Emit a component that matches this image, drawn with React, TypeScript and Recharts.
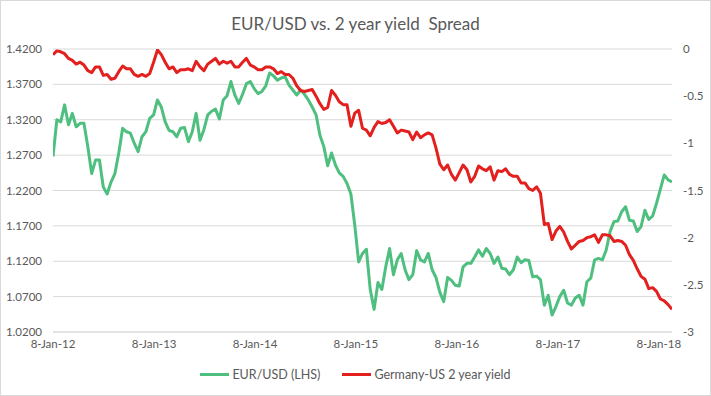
import React from "react";
import { LineChart, Line, XAxis, YAxis, CartesianGrid, Legend } from "recharts";

// Fortnightly observations starting 8-Jan-2012
const startDate = Date.UTC(2012, 0, 8);
const stepDays = 14;
const DAY_MS = 86400000;

const eurUsd = [
  1.268, 1.320, 1.317, 1.341, 1.313, 1.329, 1.310, 1.315, 1.315, 1.282,
  1.244, 1.263, 1.263, 1.225, 1.215, 1.232, 1.244, 1.273, 1.308, 1.303,
  1.301, 1.287, 1.275, 1.296, 1.303, 1.322, 1.327, 1.348, 1.338, 1.317,
  1.305, 1.303, 1.296, 1.308, 1.309, 1.289, 1.303, 1.329, 1.291, 1.306,
  1.327, 1.332, 1.335, 1.321, 1.348, 1.354, 1.374, 1.355, 1.343, 1.356,
  1.371, 1.374, 1.364, 1.357, 1.360, 1.368, 1.386, 1.382, 1.376, 1.379,
  1.381, 1.369, 1.362, 1.355, 1.362, 1.356, 1.348, 1.338, 1.327, 1.298,
  1.282, 1.255, 1.273, 1.256, 1.245, 1.240, 1.230, 1.215, 1.171, 1.119,
  1.131, 1.137, 1.080, 1.052, 1.090, 1.080, 1.112, 1.138, 1.101, 1.122,
  1.131, 1.108, 1.094, 1.101, 1.135, 1.122, 1.119, 1.131, 1.108, 1.097,
  1.076, 1.063, 1.097, 1.093, 1.086, 1.085, 1.112, 1.117, 1.117, 1.126,
  1.136, 1.127, 1.138, 1.131, 1.117, 1.126, 1.110, 1.109, 1.101, 1.108,
  1.126, 1.118, 1.122, 1.121, 1.098, 1.099, 1.094, 1.058, 1.072, 1.044,
  1.056, 1.070, 1.079, 1.061, 1.058, 1.068, 1.072, 1.058, 1.091, 1.096,
  1.122, 1.124, 1.122, 1.136, 1.162, 1.176, 1.177, 1.190, 1.197, 1.178,
  1.177, 1.162, 1.169, 1.192, 1.179, 1.184, 1.202, 1.222, 1.242, 1.235,
  1.232,
];

const spread = [
  -0.06, -0.02, -0.03, -0.05, -0.10, -0.12, -0.16, -0.14, -0.17, -0.23,
  -0.25, -0.19, -0.19, -0.28, -0.27, -0.32, -0.31, -0.24, -0.18, -0.21,
  -0.21, -0.27, -0.29, -0.27, -0.29, -0.26, -0.14, -0.01, -0.06, -0.14,
  -0.21, -0.19, -0.25, -0.22, -0.22, -0.21, -0.23, -0.13, -0.19, -0.23,
  -0.16, -0.13, -0.10, -0.16, -0.13, -0.15, -0.13, -0.19, -0.19, -0.14,
  -0.10, -0.17, -0.19, -0.22, -0.22, -0.19, -0.19, -0.21, -0.26, -0.24,
  -0.27, -0.27, -0.31, -0.39, -0.44, -0.45, -0.44, -0.43, -0.50, -0.58,
  -0.64, -0.62, -0.44, -0.49, -0.56, -0.59, -0.59, -0.82, -0.68, -0.65,
  -0.84, -0.86, -0.92, -0.83, -0.77, -0.79, -0.78, -0.75, -0.82, -0.89,
  -0.86, -0.87, -0.88, -0.96, -0.88, -0.94, -0.91, -0.89, -0.91, -1.05,
  -1.22, -1.28, -1.23, -1.33, -1.39, -1.31, -1.23, -1.28, -1.41, -1.35,
  -1.24, -1.27, -1.29, -1.25, -1.39, -1.29, -1.30, -1.27, -1.33, -1.35,
  -1.35, -1.42, -1.42, -1.48, -1.50, -1.46, -1.53, -1.86, -1.85, -2.02,
  -1.93, -1.88, -1.94, -2.04, -2.12, -2.08, -2.04, -2.03, -2.00, -1.99,
  -1.97, -2.05, -1.97, -1.97, -1.98, -2.04, -2.03, -2.04, -2.08, -2.18,
  -2.24, -2.33, -2.41, -2.44, -2.54, -2.53, -2.57, -2.65, -2.67, -2.71,
  -2.76,
];

const tickYears = [2012, 2013, 2014, 2015, 2016, 2017, 2018];
const leftTicks = [1.02, 1.07, 1.12, 1.17, 1.22, 1.27, 1.32, 1.37, 1.42];
const rightTicks = [-3, -2.5, -2, -1.5, -1, -0.5, 0];
const monthNames = ["Jan", "Feb", "Mar", "Apr", "May", "Jun", "Jul", "Aug", "Sep", "Oct", "Nov", "Dec"];

const seriesNames = { eur: "EUR/USD (LHS)", spread: "Germany-US 2 year yield" };
const GREEN = "#4FBF80";
const RED = "#E3201E";
const TEXT = "#595959";
const FONT = "Lato, 'Noto Sans', sans-serif";

const data = eurUsd.map((v, i) => ({
  t: startDate + i * stepDays * DAY_MS,
  eur: v,
  spread: spread[i],
}));

const xTicks = tickYears.map((y) => Date.UTC(y, 0, 8));
const xDomain = [data[0].t, data[data.length - 1].t];

const fmtDate = (t: number) => {
  const d = new Date(t);
  return `${d.getUTCDate()}-${monthNames[d.getUTCMonth()]}-${String(d.getUTCFullYear()).slice(2)}`;
};

const renderLegend = (props: any) => {
  const payload = props.payload || [];
  return (
    <div style={{ display: "flex", justifyContent: "center", alignItems: "center", fontFamily: FONT, fontSize: 12.5, color: TEXT }}>
      {payload.map((e: any, i: number) => (
        <div key={i} style={{ display: "flex", alignItems: "center", marginLeft: i === 0 ? 0 : 22 }}>
          <span style={{ display: "inline-block", width: 29, height: 3, background: e.color, marginRight: 3 }} />
          <span>{e.value}</span>
        </div>
      ))}
    </div>
  );
};

export default function App() {
  return (
    <div style={{ position: "absolute", left: 0, top: 0, width: 711, height: 396, boxSizing: "border-box", border: "1px solid #d9d9d9", background: "#fff", overflow: "hidden" }}>
      <div style={{ position: "absolute", left: -1, top: 12, width: 711, textAlign: "center", fontFamily: FONT, fontSize: 17, color: TEXT }}>
        EUR/USD vs. 2 year yield&nbsp;&nbsp;Spread
      </div>
      <div style={{ position: "absolute", left: -1, top: -1 }}>
        <LineChart width={711} height={396} data={data} margin={{ top: 49, right: 0, bottom: 34, left: 0 }}>
          <CartesianGrid yAxisId="left" horizontal={true} vertical={false} stroke="#d9d9d9" />
          <XAxis
            dataKey="t"
            type="number"
            scale="linear"
            domain={xDomain}
            ticks={xTicks}
            interval={0}
            tickFormatter={fmtDate}
            height={30}
            axisLine={{ stroke: "#d9d9d9" }}
            tickLine={false}
            tick={{ fill: TEXT, fontSize: 11.5, fontFamily: FONT }}
            allowDataOverflow
          />
          <YAxis
            yAxisId="left"
            orientation="left"
            width={53}
            domain={[1.02, 1.42]}
            ticks={leftTicks}
            interval={0}
            tickFormatter={(v: number) => v.toFixed(4)}
            axisLine={false}
            tickLine={false}
            tickMargin={5}
            tick={{ fill: TEXT, fontSize: 11.5, fontFamily: FONT }}
            allowDataOverflow
          />
          <YAxis
            yAxisId="right"
            orientation="right"
            width={39}
            domain={[-3, 0]}
            ticks={rightTicks}
            interval={0}
            tickFormatter={(v: number) => String(v)}
            axisLine={false}
            tickLine={false}
            tickMargin={5}
            tick={{ fill: TEXT, fontSize: 11.5, fontFamily: FONT }}
            allowDataOverflow
          />
          <Legend
            verticalAlign="middle"
            align="center"
            layout="horizontal"
            content={renderLegend}
            wrapperStyle={{ top: 367, left: 0, width: 711 }}
          />
          <Line
            yAxisId="left"
            type="linear"
            dataKey="eur"
            name={seriesNames.eur}
            stroke={GREEN}
            strokeWidth={3}
            strokeLinejoin="round"
            dot={false}
            isAnimationActive={false}
          />
          <Line
            yAxisId="right"
            type="linear"
            dataKey="spread"
            name={seriesNames.spread}
            stroke={RED}
            strokeWidth={3}
            strokeLinejoin="round"
            dot={false}
            isAnimationActive={false}
          />
        </LineChart>
      </div>
    </div>
  );
}
